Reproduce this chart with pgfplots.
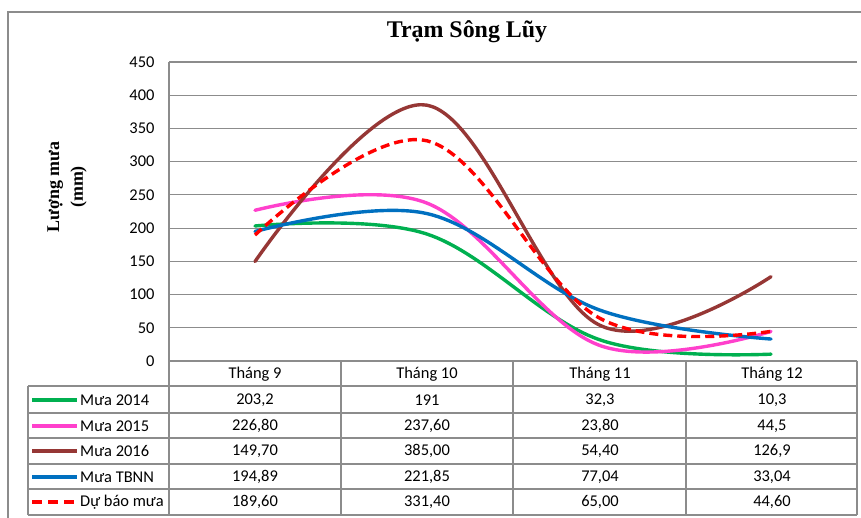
\documentclass[border=0pt]{standalone}
\usepackage{pgfplots}
\pgfplotsset{compat=1.18}
\usepackage{fontspec}
\setmainfont{Carlito}
\newfontfamily\tnr{Liberation Serif}

\definecolor{c14}{RGB}{0,176,80}
\definecolor{c15}{RGB}{255,64,204}
\definecolor{c16}{RGB}{150,55,53}
\definecolor{cTB}{RGB}{0,112,192}
\definecolor{cDB}{RGB}{255,0,0}
\definecolor{gridc}{RGB}{140,140,140}

\begin{document}
\begin{tikzpicture}
\path[use as bounding box, fill=white] (0,0) rectangle (861bp,518bp);

\begin{axis}[
  at={(169bp,157bp)}, anchor=south west,
  width=688bp, height=299bp, scale only axis,
  xmin=0, xmax=4, ymin=0, ymax=450,
  ytick={0,50,...,450}, xtick=\empty,
  ymajorgrids, grid style={gridc, line width=1.2bp},
  axis x line=bottom, axis y line=left,
  axis line style={-, gridc, line width=1.2bp},
  major tick length=0pt,
  tick label style={font=\fontsize{16.5}{19}\selectfont, /pgf/number format/assume math mode=true},
  yticklabel style={xshift=-11bp},
  clip=false,
  every axis plot/.append style={smooth, tension=0.6, line width=3.4bp, line cap=round, no markers},
]
% Mua 2014
\addplot[c14] coordinates {(0.5,203.2) (1.5,191) (2.5,32.3) (3.5,10.3)};
% Mua 2015
\addplot[c15] coordinates {(0.5,226.8) (1.5,237.6) (2.5,23.8) (3.5,44.5)};
% Mua 2016
\addplot[c16] coordinates {(0.5,149.7) (1.5,385.0) (2.5,54.4) (3.5,126.9)};
% TBNN
\addplot[cTB] coordinates {(0.5,194.89) (1.5,221.85) (2.5,77.04) (3.5,33.04)};
% du bao
\addplot[cDB, line cap=butt, dash pattern=on 9bp off 5bp] coordinates {(0.5,189.6) (1.5,331.4) (2.5,65.0) (3.5,44.6)};
\end{axis}

\begin{scope}[shift={(0,518bp)}, x=1bp, y=-1bp]
% outer chart frame
\draw[gridc, line width=1.2bp] (8,530) -- (8,12) -- (875,12);

% title and y label
\node[font=\tnr\bfseries\fontsize{24}{28}\selectfont] at (467,32) {Trạm Sông Lũy};
\node[rotate=90, align=center, font=\tnr\bfseries\fontsize{18}{24}\selectfont] at (67,187) {Lượng mưa\\(mm)};

% data table
\begin{scope}[gridc, line width=1.2bp]
  \foreach \yy in {386,413,438,464,489,515} \draw (28,\yy) -- (857,\yy);
  \draw (28,386) -- (28,515);
  \foreach \xx in {169,341,513,686,857} \draw (\xx,361) -- (\xx,515);
\end{scope}
\begin{scope}[font=\fontsize{16.5}{19}\selectfont]
  \node at (255,374) {Tháng 9};
  \node at (427,374) {Tháng 10};
  \node at (600,374) {Tháng 11};
  \node at (772,374) {Tháng 12};
  % legend keys
  \draw[c14, line width=3.4bp] (32,400) -- (77,400);
  \draw[c15, line width=3.4bp] (32,426) -- (77,426);
  \draw[c16, line width=3.4bp] (32,451) -- (77,451);
  \draw[cTB, line width=3.4bp] (32,477) -- (77,477);
  \draw[cDB, line width=3.4bp, dash pattern=on 10bp off 6bp] (32,502) -- (77,502);
  \node[anchor=west, inner sep=0pt] at (80,400) {Mưa 2014};
  \node[anchor=west, inner sep=0pt] at (80,426) {Mưa 2015};
  \node[anchor=west, inner sep=0pt] at (80,451) {Mưa 2016};
  \node[anchor=west, inner sep=0pt] at (80,477) {Mưa TBNN};
  \node[anchor=west, inner sep=0pt] at (80,502) {Dự báo mưa};
  % values
  \node at (255,400) {203,2};  \node at (427,400) {191};    \node at (600,400) {32,3};  \node at (772,400) {10,3};
  \node at (255,426) {226,80}; \node at (427,426) {237,60}; \node at (600,426) {23,80}; \node at (772,426) {44,5};
  \node at (255,451) {149,70}; \node at (427,451) {385,00}; \node at (600,451) {54,40}; \node at (772,451) {126,9};
  \node at (255,477) {194,89}; \node at (427,477) {221,85}; \node at (600,477) {77,04}; \node at (772,477) {33,04};
  \node at (255,502) {189,60}; \node at (427,502) {331,40}; \node at (600,502) {65,00}; \node at (772,502) {44,60};
\end{scope}
\end{scope}
\end{tikzpicture}
\end{document}
